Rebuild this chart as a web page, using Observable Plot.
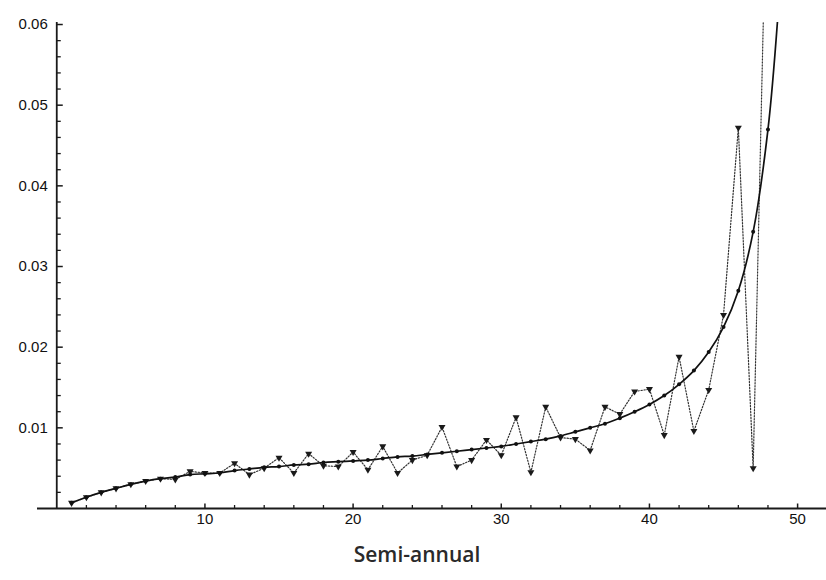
<!DOCTYPE html>
<html>
<head>
<meta charset="utf-8">
<script src="https://cdn.jsdelivr.net/npm/d3@7"></script>
<script src="https://cdn.jsdelivr.net/npm/@observablehq/plot@0.6"></script>
<style>
  body { margin: 0; background: #fff; }
  #wrap { position: relative; width: 826px; height: 580px; }
  #caption {
    position: absolute; left: 0; width: 826px; top: 544px;
    text-align: center; padding-left: 8px; box-sizing: border-box;
    font-family: "Open Sans", sans-serif; font-weight: 600; font-size: 21px;
    color: #2a2a2a; line-height: 1;
  }
</style>
</head>
<body>
<div id="wrap"><div id="chart"></div><div id="caption">Semi-annual</div></div>
<script>
// Period index (x) for both series
const periods = [1,2,3,4,5,6,7,8,9,10,11,12,13,14,15,16,17,18,19,20,21,22,23,24,
  25,26,27,28,29,30,31,32,33,34,35,36,37,38,39,40,41,42,43,44,45,46,47,48];

// Smooth (solid) series
const fitted = [0.0007,0.0014,0.0020,0.0025,0.0030,0.0034,0.0037,0.0039,0.0042,0.0043,
  0.0044,0.0047,0.0049,0.0051,0.0052,0.0054,0.0055,0.0057,0.0058,0.0059,
  0.0060,0.0062,0.0064,0.0065,0.0067,0.0069,0.0071,0.0073,0.0075,0.0077,
  0.0080,0.0083,0.0086,0.0090,0.0095,0.0100,0.0105,0.0112,0.0120,0.0129,
  0.0140,0.0154,0.0171,0.0194,0.0225,0.0270,0.0343,0.0470];
// where the solid curve leaves the top of the frame
const fittedExitX = 48.65;
const fittedExitY = 0.0606;

// Noisy (dotted) series
const observed = [0.0007,0.0014,0.0020,0.0025,0.0030,0.0034,0.0037,0.0036,0.0046,0.0044,
  0.0044,0.0056,0.0042,0.0050,0.0063,0.0044,0.0068,0.0053,0.0052,0.0070,
  0.0048,0.0077,0.0044,0.0060,0.0066,0.0101,0.0052,0.0060,0.0085,0.0066,
  0.0113,0.0045,0.0126,0.0088,0.0086,0.0072,0.0126,0.0117,0.0145,0.0148,
  0.0091,0.0188,0.0096,0.0147,0.0240,0.0472,0.0050,0.0860];

const xTicks = [10, 20, 30, 40, 50];
const xMinorTicks = [2,4,6,8,12,14,16,18,22,24,26,28,32,34,36,38,42,44,46,48];
const yTicks = [0.01, 0.02, 0.03, 0.04, 0.05, 0.06];
const yMinorTicks = [0.002,0.004,0.006,0.008,0.012,0.014,0.016,0.018,0.022,0.024,0.026,0.028,
  0.032,0.034,0.036,0.038,0.042,0.044,0.046,0.048,0.052,0.054,0.056,0.058];

const fittedData = periods.map((p, i) => ({x: p, y: fitted[i]}));
const fittedLine = fittedData.concat([{x: fittedExitX, y: fittedExitY}]);
const observedData = periods.map((p, i) => ({x: p, y: observed[i]}));

const font = "'Liberation Sans', Arial, sans-serif";
const axisColor = "#1a1a1a";

// tick-mark symbols (inward-pointing stubs)
const stubRight = len => ({draw(ctx) { ctx.moveTo(0, 0); ctx.lineTo(len, 0); }});
const stubUp = len => ({draw(ctx) { ctx.moveTo(0, 0); ctx.lineTo(0, -len); }});

const chart = Plot.plot({
  width: 826,
  height: 530,
  marginLeft: 37,
  marginRight: 0,
  marginTop: 22,
  marginBottom: 22,
  style: {background: "#fff", overflow: "visible"},
  x: {domain: [-1.3, 51.95], axis: null},
  y: {domain: [0, 0.06025], axis: null},
  marks: [
    // axis lines
    Plot.ruleY([0], {stroke: axisColor, strokeWidth: 1.8}),
    Plot.ruleX([0], {stroke: axisColor, strokeWidth: 1.8}),
    // x ticks (inward)
    Plot.dot(xTicks, {x: d => d, y: 0, symbol: stubUp(5), fill: "none", stroke: axisColor, strokeWidth: 1.5}),
    Plot.dot(xMinorTicks, {x: d => d, y: 0, symbol: stubUp(3.5), fill: "none", stroke: axisColor, strokeWidth: 1.3}),
    // y ticks (inward)
    Plot.dot(yTicks, {x: 0, y: d => d, symbol: stubRight(6), fill: "none", stroke: axisColor, strokeWidth: 1.5}),
    Plot.dot(yMinorTicks, {x: 0, y: d => d, symbol: stubRight(4), fill: "none", stroke: axisColor, strokeWidth: 1.3}),
    // tick labels
    Plot.text(xTicks, {x: d => d, y: 0, text: d => String(d), lineAnchor: "top", dy: 5,
      fontSize: 15, fontFamily: font, fill: "#111"}),
    Plot.text(yTicks, {x: 0, y: d => d, text: d => d.toFixed(2), textAnchor: "end", dx: -9,
      fontSize: 15, fontFamily: font, fill: "#111"}),
    // dotted series
    Plot.line(observedData, {x: "x", y: "y", stroke: "#333", strokeWidth: 1.2,
      strokeDasharray: "1.3,1.7", clip: true}),
    Plot.dot(observedData, {x: "x", y: "y", symbol: "triangle", rotate: 180, r: 2.6,
      fill: "#1a1a1a", stroke: "none", clip: true}),
    // solid series
    Plot.line(fittedLine, {x: "x", y: "y", curve: "catmull-rom", stroke: "#111",
      strokeWidth: 1.7, clip: true}),
    Plot.dot(fittedData, {x: "x", y: "y", r: 2, fill: "#111", stroke: "none", clip: true})
  ]
});
document.getElementById("chart").appendChild(chart);
</script>
</body>
</html>
